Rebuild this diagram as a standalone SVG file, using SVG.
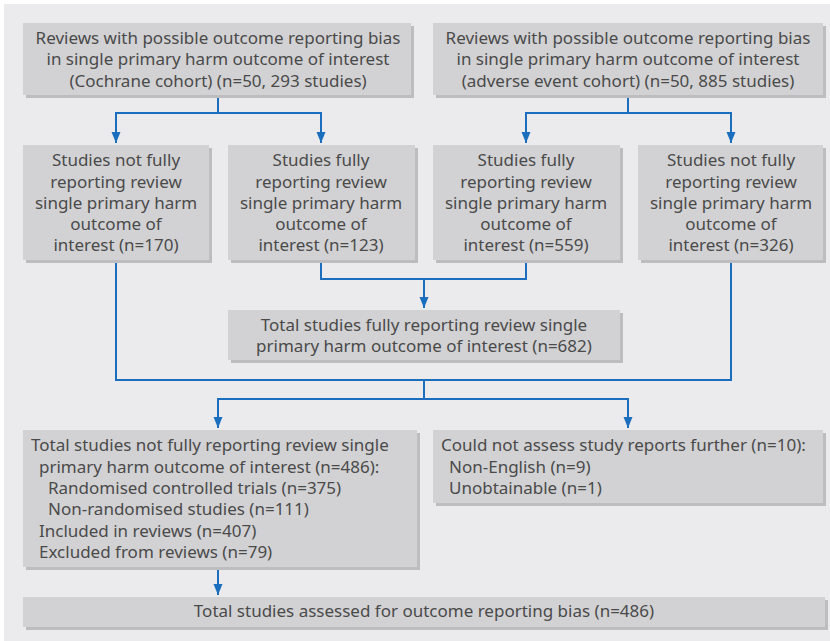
<svg xmlns="http://www.w3.org/2000/svg" width="830" height="641" viewBox="0 0 830 641">
<defs>
<style>
.bg{fill:#ebebed}
.box{fill:#d2d2d4}
.sh{fill:#bdbdbf}
.t{font-family:"Noto Sans","Open Sans","Liberation Sans",sans-serif;font-size:17px;fill:#4a4a4a}
.c{text-anchor:middle}
.ln{fill:none;stroke:#1b6ebe;stroke-width:2}
</style>
<marker id="ah" markerUnits="userSpaceOnUse" markerWidth="12" markerHeight="10" refX="11" refY="4.5" orient="auto">
<path d="M0,0 L11,4.5 L0,9 z" fill="#1b6ebe"/>
</marker>
</defs>
<rect x="0" y="0" width="830" height="641" fill="#ffffff"/>
<rect class="bg" x="4" y="4" width="826" height="637"/>
<g id="connectors">
<path class="ln" d="M218,95 V113 H116 V143" marker-end="url(#ah)"/>
<path class="ln" d="M218,113 H321 V143" marker-end="url(#ah)"/>
<path class="ln" d="M628,95 V113 H526 V143" marker-end="url(#ah)"/>
<path class="ln" d="M628,113 H731 V143" marker-end="url(#ah)"/>
<path class="ln" d="M321,260 V279 H526 V260"/>
<path class="ln" d="M424,279 V308" marker-end="url(#ah)"/>
<path class="ln" d="M116,260 V380 H731 V260"/>
<path class="ln" d="M424,380 V399 H218 V428" marker-end="url(#ah)"/>
<path class="ln" d="M424,399 H628 V428" marker-end="url(#ah)"/>
<path class="ln" d="M218,567 V595" marker-end="url(#ah)"/>
</g>
<g id="top-cochrane">
<rect class="sh" x="26" y="26" width="388" height="72"/>
<rect class="box" x="23" y="23" width="388" height="72"/>
<text class="t c" x="218" y="43.5">Reviews with possible outcome reporting bias</text>
<text class="t c" x="218" y="65">in single primary harm outcome of interest</text>
<text class="t c" x="218" y="86.5">(Cochrane cohort) (n=50, 293 studies)</text>
</g>
<g id="top-adverse">
<rect class="sh" x="436" y="26" width="390" height="72"/>
<rect class="box" x="433" y="23" width="390" height="72"/>
<text class="t c" x="628" y="43.5">Reviews with possible outcome reporting bias</text>
<text class="t c" x="628" y="65">in single primary harm outcome of interest</text>
<text class="t c" x="628" y="86.5">(adverse event cohort) (n=50, 885 studies)</text>
</g>
<g id="cochrane-not-full">
<rect class="sh" x="26" y="148" width="186" height="115"/>
<rect class="box" x="23" y="145" width="186" height="115"/>
<text class="t c" x="116" y="166">Studies not fully</text>
<text class="t c" x="116" y="187.5">reporting review</text>
<text class="t c" x="116" y="208.5">single primary harm</text>
<text class="t c" x="116" y="230">outcome of</text>
<text class="t c" x="116" y="251">interest (n=170)</text>
</g>
<g id="cochrane-full">
<rect class="sh" x="231" y="148" width="187" height="115"/>
<rect class="box" x="228" y="145" width="187" height="115"/>
<text class="t c" x="321" y="166">Studies fully</text>
<text class="t c" x="321" y="187.5">reporting review</text>
<text class="t c" x="321" y="208.5">single primary harm</text>
<text class="t c" x="321" y="230">outcome of</text>
<text class="t c" x="321" y="251">interest (n=123)</text>
</g>
<g id="adverse-full">
<rect class="sh" x="436" y="148" width="187" height="115"/>
<rect class="box" x="433" y="145" width="187" height="115"/>
<text class="t c" x="526" y="166">Studies fully</text>
<text class="t c" x="526" y="187.5">reporting review</text>
<text class="t c" x="526" y="208.5">single primary harm</text>
<text class="t c" x="526" y="230">outcome of</text>
<text class="t c" x="526" y="251">interest (n=559)</text>
</g>
<g id="adverse-not-full">
<rect class="sh" x="641" y="148" width="185" height="115"/>
<rect class="box" x="638" y="145" width="185" height="115"/>
<text class="t c" x="731" y="166">Studies not fully</text>
<text class="t c" x="731" y="187.5">reporting review</text>
<text class="t c" x="731" y="208.5">single primary harm</text>
<text class="t c" x="731" y="230">outcome of</text>
<text class="t c" x="731" y="251">interest (n=326)</text>
</g>
<g id="total-full">
<rect class="sh" x="231" y="313" width="392" height="50"/>
<rect class="box" x="228" y="310" width="392" height="50"/>
<text class="t c" x="424" y="330.5">Total studies fully reporting review single</text>
<text class="t c" x="424" y="352">primary harm outcome of interest (n=682)</text>
</g>
<g id="total-not-full">
<rect class="sh" x="26" y="433" width="394" height="137"/>
<rect class="box" x="23" y="430" width="394" height="137"/>
<text class="t" x="31" y="451">Total studies not fully reporting review single</text>
<text class="t" x="39" y="472.5">primary harm outcome of interest (n=486):</text>
<text class="t" x="48" y="494">Randomised controlled trials (n=375)</text>
<text class="t" x="48" y="515">Non-randomised studies (n=111)</text>
<text class="t" x="39" y="536.5">Included in reviews (n=407)</text>
<text class="t" x="39" y="558">Excluded from reviews (n=79)</text>
</g>
<g id="could-not-assess">
<rect class="sh" x="436" y="433" width="390" height="73"/>
<rect class="box" x="433" y="430" width="390" height="73"/>
<text class="t" x="441" y="451">Could not assess study reports further (n=10):</text>
<text class="t" x="449" y="472.5">Non-English (n=9)</text>
<text class="t" x="449" y="494">Unobtainable (n=1)</text>
</g>
<g id="total-assessed">
<rect class="sh" x="26" y="600" width="802" height="30"/>
<rect class="box" x="23" y="597" width="802" height="30"/>
<text class="t c" x="424" y="617">Total studies assessed for outcome reporting bias (n=486)</text>
</g>
</svg>
